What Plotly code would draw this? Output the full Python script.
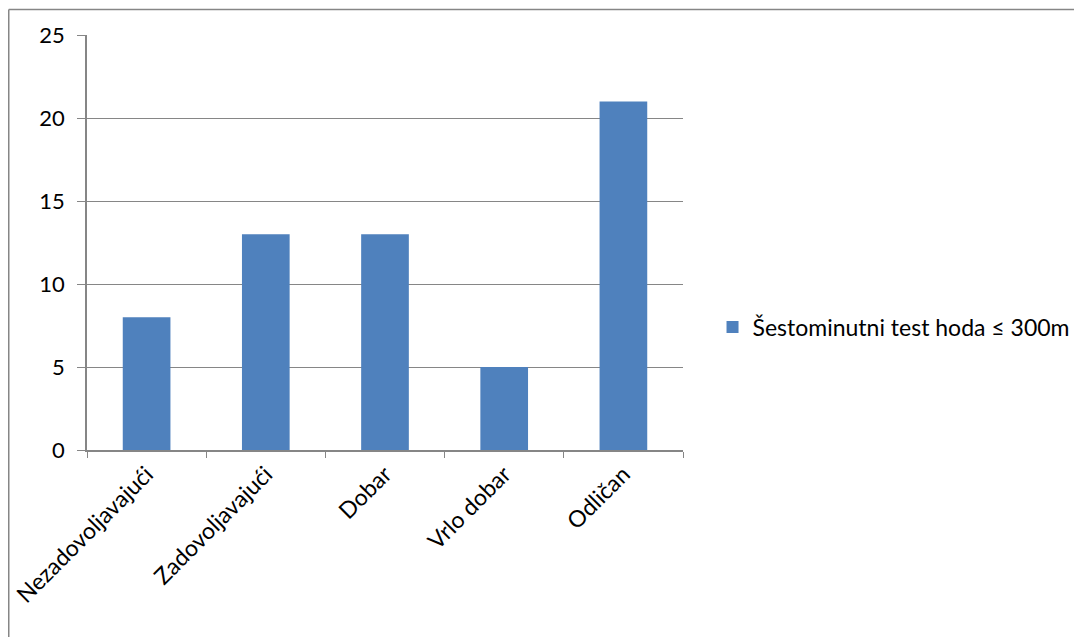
import plotly.graph_objects as go

categories = ["Nezadovoljavajući", "Zadovoljavajući", "Dobar", "Vrlo dobar", "Odličan"]
values = [8, 13, 13, 5, 21]
series_name = "Šestominutni test hoda ≤ 300m"

GRAY = "#868686"

# page body has an 8px margin, so the figure is laid out in shifted coordinates
W, H = 1074, 629
L, T = 79, 27
PW, PH = 596, 415

fig = go.Figure(go.Bar(
    x=categories,
    y=values,
    name=series_name,
    marker_color="#4F81BD",
    marker_line_width=0,
))

fig.update_layout(
    width=W,
    height=H,
    plot_bgcolor="white",
    paper_bgcolor="white",
    font=dict(family="Lato, Liberation Sans, sans-serif", size=22, color="black"),
    margin=dict(l=L, r=W - L - PW, t=T, b=H - T - PH, autoexpand=False),
    bargap=0.6,
    showlegend=True,
    legend=dict(x=(723 - L) / PW - 0.031, y=1 - (327 - 8 - T) / PH, xanchor="left", yanchor="middle",
                font=dict(size=23), bgcolor="rgba(0,0,0,0)"),
    xaxis=dict(
        showline=True, linecolor=GRAY, linewidth=1.5,
        ticks="outside", tickson="boundaries", ticklen=6, tickcolor=GRAY,
        tickangle=-45, showgrid=False, tickfont=dict(size=23),
    ),
    yaxis=dict(
        range=[0, 25], dtick=5, showline=True, linecolor=GRAY, linewidth=1.5,
        ticks="outside", ticklen=8, tickcolor=GRAY,
        showgrid=True, gridcolor=GRAY, gridwidth=1, zeroline=False,
        ticklabelstandoff=8,
    ),
)

# outer chart border (Excel style): only top and left edges are in view
x_left = (0.75 - L) / PW
y_top = 1 + (T - 1.5) / PH
fig.add_shape(type="line", xref="paper", yref="paper",
              x0=x_left, x1=(W - L) / PW, y0=y_top, y1=y_top,
              line=dict(color=GRAY, width=1.5), layer="below")
fig.add_shape(type="line", xref="paper", yref="paper",
              x0=x_left, x1=x_left, y0=-(H - T - PH) / PH, y1=y_top,
              line=dict(color=GRAY, width=1.5), layer="below")

fig.write_html("out.html")
